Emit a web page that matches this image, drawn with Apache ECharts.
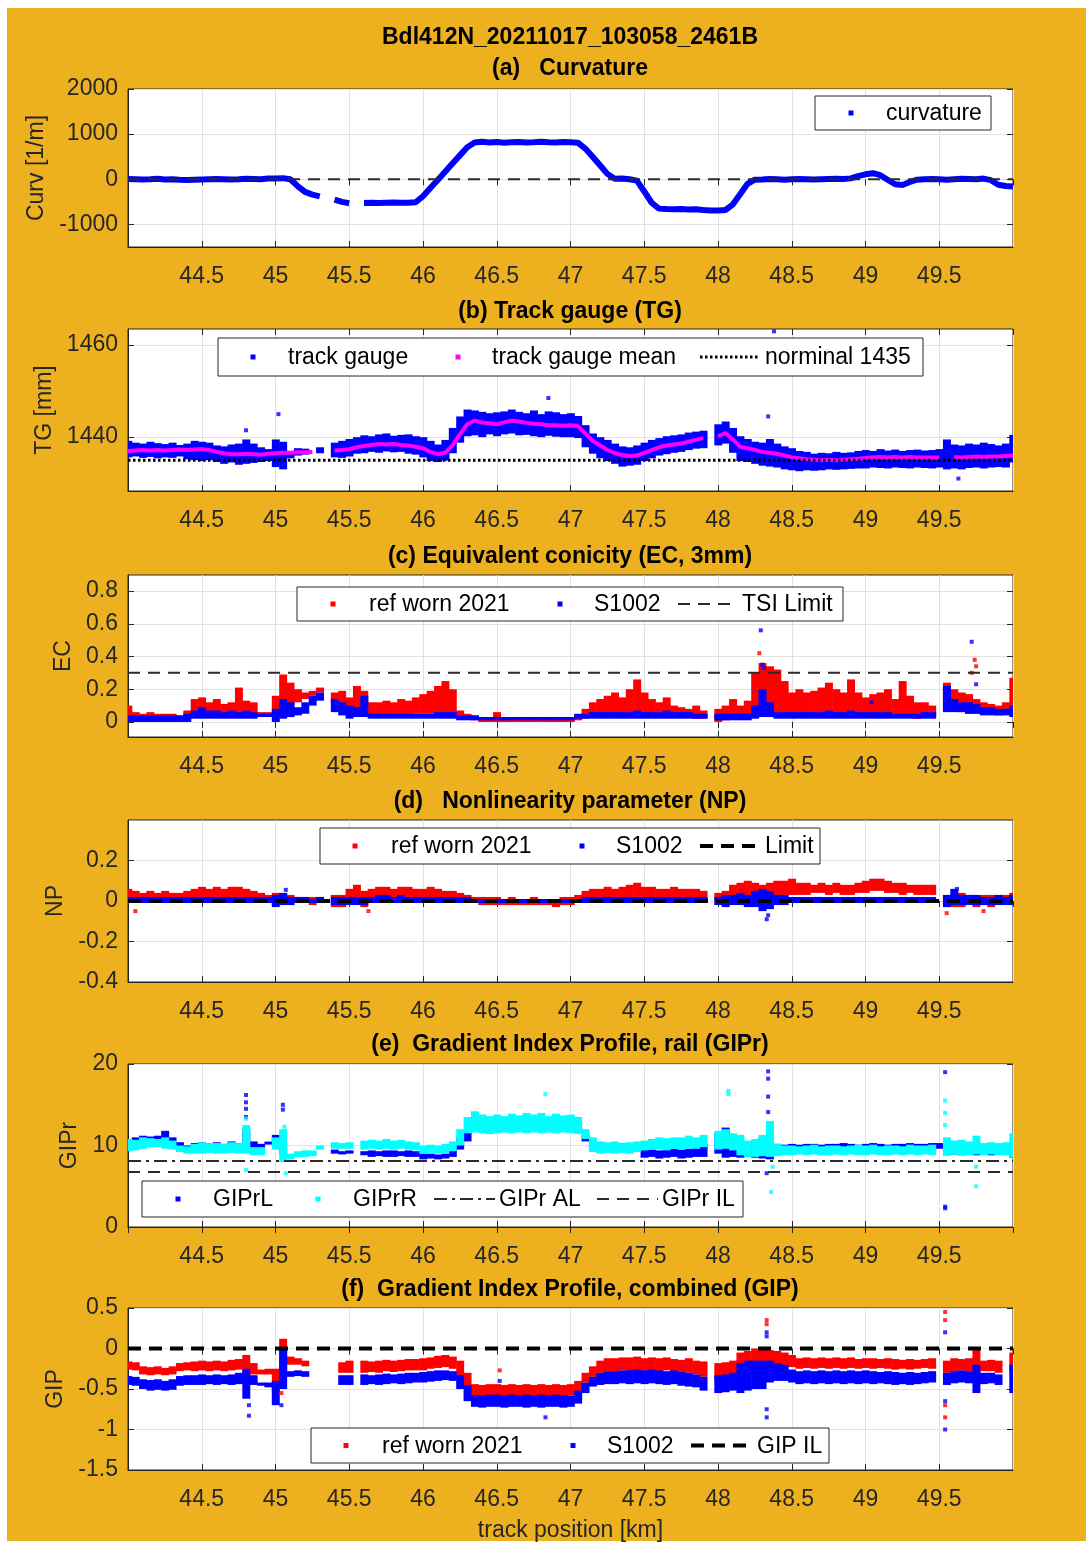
<!DOCTYPE html>
<html>
<head>
<meta charset="utf-8">
<script src="https://cdn.jsdelivr.net/npm/echarts@6/dist/echarts.min.js"></script>
<style>
  body { margin: 0; background: #fff; }
  #wrap { position: relative; width: 1091px; height: 1544px; }
  #paper { position: absolute; left: 7px; top: 8px; width: 1079px; height: 1533px; background: #EDB120; }
  #chart { position: absolute; left: 0; top: 0; width: 1091px; height: 1544px; }
</style>
</head>
<body>
<div id="wrap"><div id="paper"></div><div id="chart"></div></div>
<script>
// track position grid [km], 0.05 km bins
const trackKm = [
  44.00, 44.05, 44.10, 44.15, 44.20, 44.25, 44.30, 44.35, 44.40, 44.45,
  44.50, 44.55, 44.60, 44.65, 44.70, 44.75, 44.80, 44.85, 44.90, 44.95,
  45.00, 45.05, 45.10, 45.15, 45.20, 45.25, 45.30, 45.35, 45.40, 45.45,
  45.50, 45.55, 45.60, 45.65, 45.70, 45.75, 45.80, 45.85, 45.90, 45.95,
  46.00, 46.05, 46.10, 46.15, 46.20, 46.25, 46.30, 46.35, 46.40, 46.45,
  46.50, 46.55, 46.60, 46.65, 46.70, 46.75, 46.80, 46.85, 46.90, 46.95,
  47.00, 47.05, 47.10, 47.15, 47.20, 47.25, 47.30, 47.35, 47.40, 47.45,
  47.50, 47.55, 47.60, 47.65, 47.70, 47.75, 47.80, 47.85, 47.90, 47.95,
  48.00, 48.05, 48.10, 48.15, 48.20, 48.25, 48.30, 48.35, 48.40, 48.45,
  48.50, 48.55, 48.60, 48.65, 48.70, 48.75, 48.80, 48.85, 48.90, 48.95,
  49.00, 49.05, 49.10, 49.15, 49.20, 49.25, 49.30, 49.35, 49.40, 49.45,
  49.50, 49.55, 49.60, 49.65, 49.70, 49.75, 49.80, 49.85, 49.90, 49.95,
  50.00
];
const kmMin = 44, kmMax = 50;
const kmTicks = 0.5;

// (a) curvature [1/m]
const curvature = [
  5, 0, -5, 0, 10, -5, 0, -10, -15, -10,
  -5, 0, 5, 0, -5, 0, 10, 5, 0, 15,
  20, 25, 0, -150, -280, -340, -380, null, -450, -500,
  -530, null, -525, -520, -525, -520, -515, -520, -520, -510,
  -375, -195, -15, 165, 350, 530, 710, 815, 830, 815,
  825, 810, 820, 825, 815, 820, 830, 820, 815, 825,
  820, 810, 680, 500, 310, 120, 10, 15, 0, -30,
  -270, -520, -650, -660, -665, -660, -670, -665, -680, -690,
  -690, -680, -560, -330, -100, -10, -5, 5, 0, -10,
  0, 5, 0, -5, 0, 5, 10, 5, 20, 70,
  110, 135, 90, -10, -110, -125, -60, -10, 0, 5,
  0, -10, 0, 10, 5, 0, 15, -20, -120, -150,
  -160
];
const curvZero = 0;

// (b) track gauge [mm]
const tgLo = [
  1435.6, 1435.8, 1435.5, 1435.7, 1435.4, 1435.6, 1435.5, 1435.8, 1435.2, 1435.0,
  1434.8, 1435.0, 1434.6, 1434.2, 1434.5, 1434.0, 1434.2, 1434.4, 1434.6, 1434.8,
  1433.5, 1433.0, 1435.4, 1436.0, 1436.2, null, 1436.5, null, 1435.6, 1435.5,
  1435.8, 1436.4, 1436.5, 1436.8, 1436.6, 1436.9, 1436.7, 1436.8, 1436.4, 1436.2,
  1435.6, 1434.8, 1434.6, 1434.9, 1436.5, 1438.8, 1440.2, 1440.4, 1440.0, 1440.6,
  1440.2, 1440.6, 1440.8, 1440.4, 1440.5, 1440.2, 1440.0, 1440.3, 1440.1, 1440.0,
  1440.0, 1439.8, 1437.8, 1436.4, 1435.4, 1434.8, 1434.2, 1433.6, 1433.8, 1434.0,
  1434.8, 1435.4, 1436.0, 1436.3, 1436.6, 1436.8, 1437.2, 1437.5, 1437.6, null,
  1438.2, 1438.6, 1436.6, 1434.8, 1434.6, 1434.2, 1433.8, 1433.6, 1433.4, 1433.0,
  1432.8, 1432.6, 1432.8, 1432.7, 1432.8, 1433.0, 1432.9, 1433.0, 1433.1, 1433.2,
  1433.2, 1433.4, 1433.3, 1433.2, 1433.4, 1433.3, 1433.2, 1433.4, 1433.3, 1433.2,
  1433.4, 1433.0, 1433.2, 1433.0, 1433.3, 1433.4, 1433.2, 1433.4, 1433.5, 1433.4,
  1434.5
];
const tgHi = [
  1439.2, 1438.8, 1438.6, 1439.0, 1438.7, 1438.5, 1438.8, 1438.3, 1438.6, 1439.2,
  1439.0, 1438.8, 1438.2, 1438.0, 1438.4, 1438.6, 1439.5, 1438.6, 1437.8, 1437.4,
  1439.5, 1439.0, 1437.0, 1437.6, 1437.5, null, 1437.8, null, 1438.8, 1439.2,
  1439.6, 1440.0, 1440.4, 1440.2, 1440.6, 1440.8, 1440.3, 1440.5, 1440.6, 1440.2,
  1440.0, 1439.2, 1438.4, 1439.4, 1442.0, 1444.5, 1446.0, 1445.8, 1445.5, 1445.2,
  1445.4, 1445.6, 1446.0, 1445.5, 1445.2, 1445.8, 1445.0, 1445.6, 1445.4, 1445.0,
  1445.2, 1444.6, 1442.6, 1440.8, 1440.0, 1439.4, 1438.6, 1438.0, 1437.8, 1438.2,
  1438.8, 1439.4, 1439.8, 1440.2, 1440.4, 1440.6, 1441.0, 1441.2, 1441.4, null,
  1442.8, 1443.4, 1442.0, 1440.2, 1439.6, 1439.0, 1438.8, 1439.6, 1438.6, 1438.0,
  1437.6, 1437.0, 1436.8, 1436.4, 1436.6, 1436.5, 1436.8, 1436.6, 1436.7, 1437.0,
  1437.2, 1437.0, 1437.4, 1437.1, 1437.3, 1437.0, 1437.2, 1437.3, 1437.1, 1437.2,
  1437.4, 1439.5, 1438.4, 1438.2, 1438.6, 1438.4, 1438.8, 1438.5, 1438.2, 1438.6,
  1440.5
];
const tgMean = [
  1437.0, 1437.1, 1437.2, 1437.1, 1437.2, 1437.1, 1437.2, 1437.3, 1437.2, 1437.3,
  1437.4, 1437.2, 1436.8, 1436.5, 1436.3, 1436.3, 1436.4, 1436.3, 1436.2, 1436.4,
  1436.5, 1436.6, 1436.6, 1436.7, 1436.7, 1436.8, null, null, 1437.1, 1437.2,
  1437.4, 1437.8, 1438.1, 1438.3, 1438.5, 1438.4, 1438.5, 1438.3, 1438.2, 1437.9,
  1437.6, 1436.8, 1436.3, 1436.6, 1438.2, 1440.6, 1442.8, 1443.6, 1443.2, 1443.0,
  1442.8, 1443.2, 1443.6, 1443.4, 1443.1, 1442.9, 1442.8, 1442.6, 1442.6, 1442.5,
  1442.6, 1442.4, 1440.8, 1439.2, 1438.2, 1437.2, 1436.6, 1436.1, 1435.9, 1436.0,
  1436.6, 1437.2, 1437.8, 1438.2, 1438.4, 1438.6, 1439.0, 1439.4, 1439.8, null,
  1440.2, 1440.9, 1439.5, 1437.9, 1437.6, 1437.2, 1436.8, 1436.6, 1436.4, 1436.0,
  1435.6, 1435.4, 1435.2, 1435.1, 1435.0, 1435.1, 1435.0, 1435.1, 1435.2, 1435.3,
  1435.5, 1435.6, 1435.7, 1435.6, 1435.7, 1435.6, 1435.7, 1435.6, 1435.6, 1435.6,
  1435.6, null, 1435.7, 1435.6, 1435.7, 1435.8, 1435.7, 1435.8, 1435.8, 1435.9,
  1436.0
];
const tgOutKm = [44.80, 45.02, 46.85, 48.34, 48.38, 49.63];
const tgOutVal = [1441.5, 1445.0, 1448.5, 1444.5, 1463.0, 1431.0];
const tgNominal = 1435;

// (c) equivalent conicity
const ecRedLo = [
  0.01, 0.00, 0.00, 0.00, 0.00, 0.00, 0.00, 0.01, 0.02, 0.04,
  0.04, 0.04, 0.03, 0.04, 0.04, 0.05, 0.03, 0.03, 0.04, 0.04,
  0.05, 0.08, 0.10, 0.12, 0.14, 0.16, 0.18, null, 0.12, 0.08,
  0.06, 0.08, 0.06, 0.04, 0.04, 0.04, 0.04, 0.04, 0.04, 0.05,
  0.05, 0.05, 0.05, 0.05, 0.04, 0.02, 0.02, 0.01, 0.00, 0.00,
  0.00, 0.00, 0.00, 0.00, 0.00, 0.00, 0.00, 0.00, 0.00, 0.00,
  0.00, 0.01, 0.02, 0.03, 0.04, 0.04, 0.04, 0.04, 0.05, 0.05,
  0.05, 0.04, 0.04, 0.03, 0.03, 0.03, 0.03, 0.02, 0.02, null,
  0.00, 0.01, 0.02, 0.02, 0.03, 0.05, 0.05, 0.04, 0.04, 0.04,
  0.03, 0.03, 0.03, 0.04, 0.04, 0.04, 0.05, 0.05, 0.05, 0.04,
  0.04, 0.05, 0.04, 0.04, 0.03, 0.03, 0.03, 0.02, 0.03, 0.03,
  null, 0.08, 0.08, 0.06, 0.05, 0.05, 0.06, 0.05, 0.04, 0.05,
  0.05
];
const ecRedHi = [
  0.10, 0.06, 0.05, 0.06, 0.05, 0.05, 0.05, 0.04, 0.07, 0.14,
  0.15, 0.12, 0.14, 0.11, 0.12, 0.21, 0.13, 0.12, 0.06, 0.06,
  0.16, 0.29, 0.24, 0.20, 0.18, 0.19, 0.21, null, 0.18, 0.19,
  0.15, 0.22, 0.19, 0.12, 0.12, 0.13, 0.12, 0.14, 0.13, 0.15,
  0.17, 0.19, 0.22, 0.25, 0.20, 0.07, 0.05, 0.04, 0.03, 0.03,
  0.06, 0.03, 0.03, 0.02, 0.03, 0.02, 0.03, 0.02, 0.03, 0.03,
  0.03, 0.04, 0.08, 0.12, 0.14, 0.16, 0.18, 0.15, 0.20, 0.26,
  0.18, 0.14, 0.12, 0.15, 0.10, 0.09, 0.08, 0.10, 0.07, null,
  0.08, 0.10, 0.14, 0.10, 0.13, 0.30, 0.36, 0.34, 0.32, 0.25,
  0.18, 0.20, 0.18, 0.19, 0.21, 0.24, 0.20, 0.18, 0.26, 0.18,
  0.15, 0.17, 0.18, 0.20, 0.14, 0.25, 0.16, 0.12, 0.12, 0.10,
  null, 0.24, 0.20, 0.18, 0.17, 0.14, 0.12, 0.11, 0.10, 0.12,
  0.27
];
const ecBlueLo = [
  0.00, 0.00, 0.00, 0.00, 0.00, 0.00, 0.00, 0.00, 0.00, 0.02,
  0.02, 0.02, 0.02, 0.02, 0.02, 0.02, 0.02, 0.02, 0.03, 0.03,
  0.00, 0.02, 0.03, 0.04, 0.05, 0.10, 0.13, null, 0.06, 0.04,
  0.02, 0.03, 0.03, 0.02, 0.02, 0.02, 0.02, 0.02, 0.02, 0.02,
  0.02, 0.02, 0.02, 0.02, 0.02, 0.01, 0.01, 0.01, 0.01, 0.01,
  0.01, 0.01, 0.01, 0.01, 0.01, 0.01, 0.01, 0.01, 0.01, 0.01,
  0.01, 0.02, 0.02, 0.02, 0.02, 0.02, 0.02, 0.02, 0.02, 0.02,
  0.02, 0.02, 0.02, 0.02, 0.02, 0.02, 0.02, 0.02, 0.02, null,
  0.01, 0.01, 0.01, 0.01, 0.01, 0.02, 0.03, 0.03, 0.02, 0.02,
  0.02, 0.02, 0.02, 0.02, 0.02, 0.02, 0.02, 0.02, 0.02, 0.02,
  0.02, 0.02, 0.02, 0.02, 0.02, 0.02, 0.02, 0.02, 0.02, 0.02,
  null, 0.06, 0.06, 0.06, 0.05, 0.05, 0.04, 0.04, 0.04, 0.04,
  0.03
];
const ecBlueHi = [
  0.04, 0.04, 0.04, 0.04, 0.04, 0.04, 0.04, 0.04, 0.05, 0.07,
  0.09, 0.07, 0.07, 0.06, 0.07, 0.06, 0.07, 0.06, 0.05, 0.05,
  0.08, 0.14, 0.12, 0.09, 0.12, 0.16, 0.18, null, 0.14, 0.12,
  0.10, 0.09, 0.16, 0.05, 0.05, 0.05, 0.05, 0.05, 0.05, 0.05,
  0.05, 0.05, 0.06, 0.06, 0.06, 0.04, 0.04, 0.04, 0.03, 0.03,
  0.03, 0.03, 0.03, 0.03, 0.03, 0.03, 0.03, 0.03, 0.03, 0.03,
  0.03, 0.05, 0.05, 0.06, 0.06, 0.06, 0.06, 0.06, 0.06, 0.07,
  0.06, 0.06, 0.06, 0.07, 0.06, 0.06, 0.06, 0.05, 0.05, null,
  0.05, 0.05, 0.05, 0.05, 0.05, 0.10, 0.20, 0.12, 0.06, 0.06,
  0.06, 0.06, 0.06, 0.06, 0.06, 0.07, 0.06, 0.06, 0.07, 0.06,
  0.06, 0.06, 0.06, 0.06, 0.05, 0.05, 0.05, 0.05, 0.06, 0.06,
  null, 0.22, 0.14, 0.12, 0.12, 0.11, 0.09, 0.09, 0.08, 0.08,
  0.10
];
const ecRedOutKm = [48.28, 49.72, 49.74, 49.75];
const ecRedOutVal = [0.42, 0.30, 0.38, 0.34];
const ecBlueOutKm = [48.29, 48.30, 48.31, 49.04, 49.72, 49.75];
const ecBlueOutVal = [0.56, 0.35, 0.33, 0.12, 0.49, 0.23];
const ecTsiLimit = 0.3;

// (d) nonlinearity parameter
const npRedLo = [
  -0.01, 0.00, 0.00, -0.01, 0.00, 0.00, 0.00, 0.00, 0.00, 0.01,
  0.01, 0.01, 0.02, 0.01, 0.02, 0.01, 0.01, 0.01, 0.00, -0.01,
  -0.02, -0.02, -0.01, -0.01, -0.01, -0.02, -0.01, null, -0.03, -0.03,
  -0.02, 0.00, -0.03, 0.01, 0.02, 0.01, 0.02, 0.01, 0.02, 0.01,
  0.01, 0.01, 0.01, 0.00, 0.00, 0.00, 0.00, -0.01, -0.02, -0.02,
  -0.02, -0.02, -0.02, -0.02, -0.02, -0.02, -0.02, -0.02, -0.03, -0.02,
  -0.02, -0.01, 0.00, 0.01, 0.01, 0.01, 0.01, 0.02, 0.02, 0.02,
  0.02, 0.01, 0.01, 0.01, 0.01, 0.01, 0.01, 0.01, 0.00, null,
  0.00, -0.02, 0.00, 0.01, 0.02, 0.02, 0.01, 0.02, 0.02, 0.03,
  0.03, 0.03, 0.03, 0.04, 0.04, 0.03, 0.04, 0.03, 0.03, 0.04,
  0.04, 0.05, 0.05, 0.04, 0.04, 0.03, 0.04, 0.03, 0.03, 0.03,
  null, -0.03, -0.03, -0.03, -0.02, -0.03, -0.02, -0.03, -0.01, -0.02,
  -0.01
];
const npRedHi = [
  0.06, 0.05, 0.04, 0.05, 0.04, 0.05, 0.04, 0.04, 0.05, 0.06,
  0.07, 0.06, 0.07, 0.06, 0.07, 0.07, 0.06, 0.05, 0.04, 0.03,
  0.04, 0.04, 0.03, 0.02, 0.02, 0.02, 0.02, null, 0.03, 0.03,
  0.06, 0.08, 0.05, 0.06, 0.07, 0.07, 0.06, 0.07, 0.07, 0.06,
  0.06, 0.07, 0.06, 0.05, 0.05, 0.04, 0.03, 0.02, 0.02, 0.02,
  0.02, 0.01, 0.02, 0.01, 0.01, 0.02, 0.01, 0.01, 0.01, 0.02,
  0.02, 0.03, 0.05, 0.06, 0.06, 0.07, 0.06, 0.07, 0.08, 0.09,
  0.07, 0.07, 0.06, 0.06, 0.07, 0.06, 0.06, 0.06, 0.05, null,
  0.04, 0.05, 0.08, 0.09, 0.10, 0.09, 0.08, 0.09, 0.10, 0.10,
  0.11, 0.09, 0.09, 0.08, 0.09, 0.08, 0.09, 0.08, 0.08, 0.09,
  0.10, 0.11, 0.11, 0.10, 0.09, 0.09, 0.08, 0.08, 0.08, 0.08,
  null, 0.03, 0.03, 0.04, 0.03, 0.02, 0.03, 0.03, 0.02, 0.03,
  0.04
];
const npBlueLo = [
  -0.01, -0.01, -0.01, -0.01, -0.01, -0.01, -0.01, -0.01, -0.01, -0.01,
  -0.01, -0.01, -0.01, -0.01, -0.01, -0.01, -0.01, -0.01, -0.01, -0.01,
  -0.03, -0.02, -0.02, -0.01, -0.01, -0.01, -0.01, null, -0.02, -0.02,
  -0.02, -0.02, -0.02, -0.01, -0.01, -0.01, -0.01, -0.01, -0.01, -0.01,
  -0.01, -0.01, -0.01, -0.01, -0.01, -0.01, -0.01, -0.01, -0.01, -0.01,
  -0.01, -0.01, -0.01, -0.01, -0.01, -0.01, -0.01, -0.01, -0.01, -0.01,
  -0.01, -0.01, -0.01, -0.01, -0.01, -0.01, -0.01, -0.01, -0.01, -0.01,
  -0.01, -0.01, -0.01, -0.01, -0.01, -0.01, -0.01, -0.01, -0.01, null,
  -0.02, -0.03, -0.02, -0.02, -0.03, -0.03, -0.05, -0.04, -0.02, -0.02,
  -0.01, -0.01, -0.01, -0.01, -0.01, -0.01, -0.01, -0.01, -0.01, -0.01,
  -0.01, -0.01, -0.01, -0.01, -0.01, -0.01, -0.01, -0.01, -0.01, -0.01,
  null, -0.03, -0.02, -0.02, -0.02, -0.02, -0.02, -0.02, -0.02, -0.02,
  -0.02
];
const npBlueHi = [
  0.02, 0.02, 0.02, 0.02, 0.02, 0.02, 0.02, 0.02, 0.02, 0.02,
  0.02, 0.02, 0.02, 0.02, 0.02, 0.02, 0.02, 0.02, 0.02, 0.02,
  0.03, 0.04, 0.02, 0.02, 0.02, 0.01, 0.02, null, 0.02, 0.02,
  0.02, 0.02, 0.02, 0.02, 0.03, 0.03, 0.02, 0.03, 0.02, 0.02,
  0.02, 0.02, 0.02, 0.02, 0.02, 0.02, 0.02, 0.01, 0.01, 0.01,
  0.01, 0.01, 0.01, 0.01, 0.01, 0.01, 0.01, 0.01, 0.01, 0.01,
  0.01, 0.01, 0.02, 0.02, 0.02, 0.02, 0.02, 0.02, 0.02, 0.02,
  0.02, 0.02, 0.02, 0.02, 0.02, 0.02, 0.02, 0.02, 0.02, null,
  0.02, 0.03, 0.03, 0.04, 0.03, 0.05, 0.06, 0.05, 0.03, 0.03,
  0.02, 0.02, 0.02, 0.02, 0.02, 0.02, 0.02, 0.02, 0.02, 0.02,
  0.02, 0.02, 0.02, 0.02, 0.02, 0.02, 0.02, 0.02, 0.02, 0.02,
  null, 0.03, 0.06, 0.03, 0.03, 0.03, 0.02, 0.02, 0.03, 0.02,
  0.03
];
const npRedOutKm = [44.05, 45.63, 49.55, 49.80];
const npRedOutVal = [-0.05, -0.05, -0.06, -0.05];
const npBlueOutKm = [45.07, 48.33, 48.34, 49.62];
const npBlueOutVal = [0.055, -0.09, -0.07, 0.06];
const npLimit = 0;

// (e) gradient index profile, rail
const giprLLo = [
  10.0, 10.0, 10.2, 10.3, 10.4, 10.2, 10.3, 9.5, 9.3, 9.4,
  9.3, 9.4, 9.4, 9.3, 9.4, 9.3, 9.6, 9.0, 9.3, 10.0,
  10.5, 9.0, null, null, null, null, null, null, 9.0, 8.9,
  9.0, null, 8.8, 8.6, 8.7, 8.6, 8.6, 8.7, 8.6, 8.6,
  8.3, 8.4, 8.3, 8.4, 8.6, 9.5, 10.5, 11.9, 12.0, 11.9,
  12.0, 11.9, 12.0, 12.0, 11.9, 12.0, 12.0, 11.9, 11.9, 11.9,
  11.9, 11.5, 10.5, 9.4, 9.3, 9.4, 9.3, 9.4, 9.3, 9.3,
  8.5, 8.6, 8.4, 8.5, 8.6, 8.4, 8.5, 8.6, 8.6, null,
  9.0, 8.5, 8.6, 8.5, 8.6, 8.5, 8.4, 8.3, 9.3, 9.4,
  9.3, 9.3, 9.3, 9.3, 9.3, 9.3, 9.3, 9.3, 9.3, 9.3,
  9.3, 9.4, 9.3, 9.3, 9.4, 9.3, 9.3, 9.4, 9.3, 9.3,
  9.6, 8.8, 8.9, 8.8, 8.9, 8.8, 8.9, 8.8, 8.9, 9.5,
  8.5
];
const giprLHi = [
  10.8, 11.0, 11.2, 11.1, 11.2, 11.8, 11.0, 10.4, 10.0, 10.3,
  10.4, 10.3, 10.4, 10.2, 10.5, 10.3, 12.0, 10.5, 10.2, 10.3,
  11.3, 10.0, null, null, null, null, null, null, 9.5, 9.3,
  9.4, null, 9.3, 9.4, 9.3, 9.4, 9.4, 9.3, 9.4, 9.3,
  9.0, 9.0, 8.9, 9.0, 9.6, 11.0, 12.0, 12.5, 12.6, 12.5,
  12.6, 12.5, 12.6, 12.6, 12.5, 12.6, 12.5, 12.5, 12.5, 12.5,
  12.5, 12.3, 11.3, 10.3, 10.2, 10.3, 10.2, 10.3, 10.2, 10.2,
  9.6, 9.5, 9.4, 9.5, 9.6, 9.5, 9.6, 9.8, 10.2, null,
  11.5, 12.2, 11.0, 10.5, 10.3, 10.5, 11.0, 10.0, 10.2, 10.1,
  10.2, 10.1, 10.2, 10.2, 10.1, 10.2, 10.2, 10.3, 10.2, 10.1,
  10.2, 10.3, 10.2, 10.1, 10.2, 10.2, 10.3, 10.2, 10.2, 10.3,
  10.3, 9.8, 9.7, 9.8, 9.6, 9.8, 9.7, 9.6, 9.8, 10.3,
  10.0
];
const giprRLo = [
  9.3, 9.4, 9.6, 9.8, 9.8, 9.6, 9.5, 9.2, 9.0, 9.0,
  9.0, 9.1, 9.0, 9.0, 9.1, 9.0, 9.0, 8.8, 8.8, null,
  9.5, 8.0, 8.3, 8.6, 8.6, 8.7, 9.5, null, 9.6, 9.6,
  9.6, null, 9.5, 9.6, 9.5, 9.6, 9.5, 9.6, 9.5, 9.4,
  9.0, 9.1, 9.0, 9.0, 9.3, 10.0, 11.5, 11.6, 11.5, 11.4,
  11.5, 11.6, 11.5, 11.6, 11.5, 11.6, 11.5, 11.6, 11.5, 11.6,
  11.5, 11.5, 10.8, 9.2, 9.0, 9.1, 9.0, 9.1, 9.0, 9.2,
  9.4, 9.5, 9.5, 9.4, 9.6, 9.5, 9.6, 9.6, 9.8, null,
  9.5, 9.6, 9.4, 8.8, 8.6, 8.6, 8.7, 8.6, 8.7, 8.8,
  8.8, 8.9, 8.8, 8.9, 8.8, 8.8, 8.9, 8.8, 8.9, 8.8,
  8.8, 8.9, 8.8, 8.8, 8.9, 8.8, 8.9, 8.8, 8.9, 8.8,
  null, 8.8, 8.9, 8.8, 8.8, 8.9, 8.8, 8.9, 8.8, 8.8,
  8.5
];
const giprRHi = [
  10.8, 10.7, 11.0, 10.9, 10.8, 11.0, 10.6, 10.0, 9.9, 10.2,
  10.4, 10.3, 10.3, 10.2, 10.4, 10.3, 12.5, 9.8, 9.8, null,
  11.0, 12.0, 9.0, 9.3, 9.4, 9.4, 10.0, null, 10.4, 10.3,
  10.4, null, 10.6, 10.7, 10.6, 10.8, 10.6, 10.7, 10.5, 10.4,
  10.0, 10.1, 10.0, 10.2, 10.5, 12.0, 13.5, 14.2, 13.8, 13.6,
  13.8, 13.6, 13.9, 13.7, 14.0, 13.8, 14.0, 13.6, 13.9, 13.7,
  13.8, 13.5, 12.0, 11.0, 10.5, 10.4, 10.5, 10.3, 10.4, 10.5,
  10.6, 10.8, 11.0, 10.9, 11.0, 11.0, 11.2, 11.0, 11.3, null,
  11.8, 12.0, 11.5, 11.3, 10.6, 10.8, 11.3, 13.0, 10.2, 10.0,
  10.0, 9.9, 10.0, 10.1, 9.9, 10.0, 10.0, 9.9, 10.0, 10.1,
  10.0, 10.1, 9.9, 10.0, 10.0, 9.9, 10.1, 10.0, 10.0, 10.1,
  null, 11.0, 10.6, 10.7, 10.5, 11.2, 10.3, 10.4, 10.3, 10.4,
  11.5
];
const giprLOutKm = [44.80, 44.80, 44.80, 44.80, 45.05, 45.05, 48.33, 48.34, 48.34, 48.34, 48.34, 49.54, 49.54, 49.54];
const giprLOutVal = [16.2, 15.3, 14.5, 13.5, 15.0, 14.4, 6.6, 19.1, 18.2, 16.0, 14.1, 19.0, 2.5, 2.3];
const giprROutKm = [44.80, 44.80, 45.06, 45.07, 46.83, 48.07, 48.07, 48.36, 48.37, 49.54, 49.54, 49.54, 49.75, 49.75];
const giprROutVal = [13.3, 7.0, 12.3, 6.6, 16.3, 16.7, 16.3, 4.3, 7.4, 15.5, 14.0, 12.5, 7.4, 5.0];
const giprAlarmLimit = 8.1;
const giprInterventionLimit = 6.75;

// (f) gradient index profile, combined
const gipRedLo = [
  -0.26, -0.27, -0.32, -0.33, -0.32, -0.33, -0.32, -0.28, -0.27, -0.28,
  -0.27, -0.28, -0.27, -0.28, -0.27, -0.26, -0.35, -0.32, -0.32, -0.32,
  -0.55, -0.30, -0.20, -0.20, -0.22, null, null, null, null, -0.30,
  -0.30, null, -0.30, -0.29, -0.30, -0.28, -0.29, -0.28, -0.27, -0.27,
  -0.27, -0.25, -0.24, -0.23, -0.25, -0.35, -0.50, -0.60, -0.60, -0.58,
  -0.58, -0.60, -0.59, -0.60, -0.58, -0.60, -0.59, -0.60, -0.58, -0.59,
  -0.58, -0.55, -0.42, -0.35, -0.30, -0.28, -0.28, -0.27, -0.28, -0.27,
  -0.28, -0.27, -0.28, -0.27, -0.28, -0.30, -0.30, -0.32, -0.35, null,
  -0.40, -0.38, -0.36, -0.35, -0.34, -0.32, -0.30, -0.25, -0.22, -0.22,
  -0.23, -0.25, -0.24, -0.25, -0.24, -0.25, -0.24, -0.25, -0.24, -0.25,
  -0.24, -0.25, -0.24, -0.25, -0.26, -0.25, -0.26, -0.25, -0.24, -0.25,
  null, -0.30, -0.28, -0.27, -0.28, -0.30, -0.28, -0.28, -0.30, null,
  -0.30
];
const gipRedHi = [
  -0.16, -0.17, -0.22, -0.23, -0.22, -0.24, -0.22, -0.18, -0.17, -0.16,
  -0.15, -0.16, -0.15, -0.16, -0.14, -0.13, -0.08, -0.18, -0.26, -0.25,
  -0.25, 0.12, -0.10, -0.12, -0.15, null, null, null, null, -0.17,
  -0.15, null, -0.15, -0.16, -0.15, -0.14, -0.15, -0.14, -0.13, -0.13,
  -0.12, -0.11, -0.09, -0.08, -0.10, -0.15, -0.30, -0.44, -0.45, -0.44,
  -0.44, -0.45, -0.44, -0.45, -0.44, -0.45, -0.44, -0.45, -0.44, -0.45,
  -0.44, -0.40, -0.30, -0.22, -0.15, -0.12, -0.12, -0.11, -0.11, -0.10,
  -0.12, -0.11, -0.12, -0.11, -0.13, -0.14, -0.12, -0.15, -0.16, null,
  -0.18, -0.17, -0.15, -0.05, -0.03, 0.00, 0.00, -0.02, -0.03, -0.05,
  -0.08, -0.12, -0.11, -0.12, -0.11, -0.12, -0.11, -0.12, -0.11, -0.13,
  -0.12, -0.12, -0.13, -0.12, -0.13, -0.14, -0.13, -0.14, -0.13, -0.12,
  null, -0.15, -0.12, -0.13, -0.12, -0.02, -0.15, -0.14, -0.15, null,
  -0.05
];
const gipBlueLo = [
  -0.45, -0.46, -0.50, -0.52, -0.51, -0.52, -0.51, -0.46, -0.45, -0.45,
  -0.45, -0.44, -0.45, -0.44, -0.45, -0.44, -0.62, -0.45, -0.46, -0.48,
  -0.70, -0.50, -0.35, -0.34, -0.35, null, null, null, null, -0.45,
  -0.45, null, -0.45, -0.44, -0.45, -0.44, -0.43, -0.44, -0.43, -0.42,
  -0.42, -0.41, -0.40, -0.39, -0.40, -0.50, -0.65, -0.72, -0.73, -0.72,
  -0.72, -0.73, -0.72, -0.72, -0.73, -0.72, -0.73, -0.72, -0.72, -0.73,
  -0.72, -0.68, -0.55, -0.47, -0.45, -0.44, -0.44, -0.43, -0.44, -0.43,
  -0.44, -0.43, -0.44, -0.45, -0.44, -0.46, -0.47, -0.48, -0.52, null,
  -0.55, -0.54, -0.52, -0.55, -0.52, -0.50, -0.50, -0.42, -0.40, -0.40,
  -0.42, -0.44, -0.43, -0.44, -0.43, -0.44, -0.43, -0.44, -0.43, -0.44,
  -0.43, -0.44, -0.43, -0.44, -0.45, -0.44, -0.45, -0.44, -0.43, -0.42,
  null, -0.45, -0.43, -0.42, -0.43, -0.55, -0.44, -0.43, -0.45, null,
  -0.55
];
const gipBlueHi = [
  -0.34, -0.35, -0.38, -0.39, -0.38, -0.40, -0.38, -0.34, -0.33, -0.33,
  -0.32, -0.33, -0.32, -0.33, -0.32, -0.30, -0.25, -0.33, -0.42, -0.42,
  -0.40, 0.00, -0.28, -0.27, -0.28, null, null, null, null, -0.33,
  -0.33, null, -0.32, -0.33, -0.32, -0.31, -0.32, -0.31, -0.30, -0.30,
  -0.29, -0.28, -0.27, -0.27, -0.28, -0.33, -0.45, -0.58, -0.58, -0.57,
  -0.57, -0.58, -0.57, -0.58, -0.57, -0.58, -0.57, -0.58, -0.57, -0.58,
  -0.58, -0.52, -0.42, -0.35, -0.30, -0.28, -0.28, -0.27, -0.27, -0.26,
  -0.27, -0.26, -0.27, -0.28, -0.27, -0.29, -0.30, -0.32, -0.35, null,
  -0.33, -0.32, -0.30, -0.18, -0.15, -0.15, -0.15, -0.15, -0.18, -0.20,
  -0.26, -0.28, -0.27, -0.28, -0.27, -0.28, -0.27, -0.28, -0.27, -0.28,
  -0.27, -0.28, -0.29, -0.28, -0.29, -0.30, -0.29, -0.30, -0.29, -0.28,
  null, -0.30, -0.28, -0.27, -0.28, -0.20, -0.30, -0.30, -0.32, null,
  -0.20
];
const gipRedOutKm = [45.04, 46.52, 48.33, 48.33, 49.54, 49.54, 49.54, 49.54];
const gipRedOutVal = [-0.55, -0.27, 0.35, 0.30, 0.45, 0.35, -0.70, -0.85];
const gipBlueOutKm = [44.82, 44.82, 45.04, 46.52, 46.83, 48.33, 48.33, 48.33, 48.33, 49.54, 49.54, 49.54];
const gipBlueOutVal = [-0.83, -0.70, -0.70, -0.40, -0.85, 0.20, 0.15, -0.85, -0.75, 0.20, -0.65, -1.00];
const gipInterventionLimit = 0;

// ---------------------------------------------------------------------------
const FONT_FAMILY = 'Liberation Sans, Arial, sans-serif';
const FONT_SIZE = 23;
const INK = '#262626';
const BLUE = '#0000ff', RED = '#ff0000', MAGENTA = '#ff00ff', CYAN = '#00ffff';
const halfStep = (trackKm[1] - trackKm[0]) / 2;

const panels = [
  { top: 89,   height: 158, min: -1500,  max: 2000,  ticks: [-1000, 0, 1000, 2000], name: 'Curv [1/m]', gap: 75 },
  { top: 329,  height: 162, min: 1428.3, max: 1463.5, ticks: [1440, 1460],          name: 'TG [mm]',    gap: 65 },
  { top: 575,  height: 162, min: -0.092, max: 0.898, ticks: [0, 0.2, 0.4, 0.6, 0.8], name: 'EC',         gap: 53 },
  { top: 820,  height: 162, min: -0.4,   max: 0.4,   ticks: [-0.4, -0.2, 0, 0.2],   name: 'NP',         gap: 56 },
  { top: 1064, height: 163, min: 0,      max: 20,    ticks: [0, 10, 20],            name: 'GIPr',       gap: 41 },
  { top: 1308, height: 162, min: -1.5,   max: 0.5,   ticks: [-1.5, -1, -0.5, 0, 0.5], name: 'GIP',      gap: 56 }
];

function plainNumber(v) { return String(v); }

var textStyle = { fontFamily: FONT_FAMILY, fontSize: FONT_SIZE, color: INK };
var grids = [], xAxes = [], yAxes = [];
panels.forEach(function (p, g) {
  grids.push({ left: 128, width: 885, top: p.top, height: p.height, show: true,
    backgroundColor: '#fff', borderColor: INK, borderWidth: 1 });
  var bottomX = {
    type: 'value', gridIndex: g, position: 'bottom', min: kmMin, max: kmMax, interval: kmTicks,
    axisLine: { show: true, onZero: false, lineStyle: { color: INK } },
    axisTick: { show: true, inside: true, length: 6, lineStyle: { color: INK } },
    axisLabel: Object.assign({ showMinLabel: false, showMaxLabel: false, margin: 18, formatter: plainNumber }, textStyle),
    splitLine: { show: true, lineStyle: { color: '#e2e2e2' } }
  };
  if (g === panels.length - 1) {
    bottomX.name = 'track position [km]';
    bottomX.nameLocation = 'middle';
    bottomX.nameGap = 49;
    bottomX.nameTextStyle = textStyle;
  }
  xAxes.push(bottomX);
  xAxes.push({
    type: 'value', gridIndex: g, position: 'top', min: kmMin, max: kmMax, interval: kmTicks,
    axisLine: { show: false }, axisLabel: { show: false }, splitLine: { show: false },
    axisTick: { show: true, inside: true, length: 6, lineStyle: { color: INK } }
  });
  yAxes.push({
    type: 'value', gridIndex: g, position: 'left', min: p.min, max: p.max,
    axisLine: { show: true, onZero: false, lineStyle: { color: INK } },
    axisTick: { show: true, inside: true, length: 6, customValues: p.ticks, lineStyle: { color: INK } },
    axisLabel: Object.assign({ customValues: p.ticks, margin: 10, formatter: plainNumber }, textStyle),
    splitLine: { show: true, lineStyle: { color: '#e2e2e2' } },
    name: p.name, nameLocation: 'middle', nameGap: p.gap, nameRotate: 90, nameTextStyle: textStyle
  });
  yAxes.push({
    type: 'value', gridIndex: g, position: 'right', min: p.min, max: p.max,
    axisLine: { show: false }, axisLabel: { show: false }, splitLine: { show: false },
    axisTick: { show: true, inside: true, length: 6, customValues: p.ticks, lineStyle: { color: INK } }
  });
});

function bandRect(params, api) {
  var x = api.value(0);
  var p1 = api.coord([x - halfStep, api.value(2)]);
  var p2 = api.coord([x + halfStep, api.value(1)]);
  var h = Math.max(p2[1] - p1[1], 3);
  return {
    type: 'rect',
    shape: { x: p1[0], y: p1[1] - (h > p2[1] - p1[1] ? 1.5 : 0), width: p2[0] - p1[0] + 0.6, height: h },
    style: { fill: api.visual('color') }
  };
}
function band(name, g, lo, hi, color) {
  var data = [];
  trackKm.forEach(function (km, i) {
    if (lo[i] != null && hi[i] != null) data.push([km, lo[i], hi[i]]);
  });
  return { name: name, type: 'custom', xAxisIndex: 2 * g, yAxisIndex: 2 * g, renderItem: bandRect,
    data: data, encode: { x: 0, y: [1, 2] }, itemStyle: { color: color }, clip: true, silent: true };
}
function trace(name, g, vals, color, width) {
  return { name: name, type: 'line', xAxisIndex: 2 * g, yAxisIndex: 2 * g, symbol: 'none',
    data: trackKm.map(function (km, i) { return [km, vals[i] == null ? '-' : vals[i]]; }),
    lineStyle: { color: color, width: width }, itemStyle: { color: color }, silent: true };
}
function dots(name, g, xs, ys, color) {
  return { name: name, type: 'scatter', xAxisIndex: 2 * g, yAxisIndex: 2 * g, symbol: 'rect', symbolSize: 4,
    data: xs.map(function (x, i) { return [x, ys[i]]; }), itemStyle: { color: color }, silent: true };
}
function level(name, g, value, style) {
  return { name: name, type: 'line', xAxisIndex: 2 * g, yAxisIndex: 2 * g, symbol: 'none', z: 5,
    data: [[kmMin, value], [kmMax, value]], lineStyle: style, silent: true };
}

const thinDash = { color: '#2a2a2a', width: 2, type: [12, 8] };
const thickDash = { color: '#000', width: 4, type: [13, 8] };
const dashDot = { color: '#2a2a2a', width: 1.8, type: [13, 5, 3, 5] };
const dotted = { color: '#000', width: 3, type: [2.5, 2.5] };

var series = [
  trace('curvature', 0, curvature, BLUE, 6),
  level('zero', 0, curvZero, thinDash),

  band('track gauge', 1, tgLo, tgHi, BLUE),
  dots('track gauge', 1, tgOutKm, tgOutVal, BLUE),
  trace('track gauge mean', 1, tgMean, MAGENTA, 4),
  level('norminal 1435', 1, tgNominal, dotted),

  band('ref worn 2021', 2, ecRedLo, ecRedHi, RED),
  dots('ref worn 2021', 2, ecRedOutKm, ecRedOutVal, RED),
  band('S1002', 2, ecBlueLo, ecBlueHi, BLUE),
  dots('S1002', 2, ecBlueOutKm, ecBlueOutVal, BLUE),
  level('TSI Limit', 2, ecTsiLimit, thinDash),

  band('ref worn 2021', 3, npRedLo, npRedHi, RED),
  dots('ref worn 2021', 3, npRedOutKm, npRedOutVal, RED),
  band('S1002', 3, npBlueLo, npBlueHi, BLUE),
  dots('S1002', 3, npBlueOutKm, npBlueOutVal, BLUE),
  level('Limit', 3, npLimit, thickDash),

  band('GIPrL', 4, giprLLo, giprLHi, BLUE),
  dots('GIPrL', 4, giprLOutKm, giprLOutVal, BLUE),
  band('GIPrR', 4, giprRLo, giprRHi, CYAN),
  dots('GIPrR', 4, giprROutKm, giprROutVal, CYAN),
  level('GIPr AL', 4, giprAlarmLimit, dashDot),
  level('GIPr IL', 4, giprInterventionLimit, thinDash),

  band('ref worn 2021', 5, gipRedLo, gipRedHi, RED),
  dots('ref worn 2021', 5, gipRedOutKm, gipRedOutVal, RED),
  band('S1002', 5, gipBlueLo, gipBlueHi, BLUE),
  dots('S1002', 5, gipBlueOutKm, gipBlueOutVal, BLUE),
  level('GIP IL', 5, gipInterventionLimit, thickDash)
];

// titles and MATLAB style legend boxes
var FONT = FONT_SIZE + 'px ' + FONT_FAMILY;
function title(text, y) {
  return { type: 'text', x: 570, y: y, z: 100,
    style: { text: text, font: 'bold ' + FONT, fill: '#000', align: 'center', verticalAlign: 'middle' } };
}
function legendBox(x, y, w, h, items) {
  var cy = y + h / 2;
  var out = [{ type: 'rect', z: 100, shape: { x: x, y: y, width: w, height: h },
    style: { fill: '#fff', stroke: INK, lineWidth: 1 } }];
  items.forEach(function (it) {
    if (it.dot) out.push({ type: 'rect', z: 101, shape: { x: it.at - 2.5, y: cy - 2.5, width: 5, height: 5 }, style: { fill: it.dot } });
    if (it.line) out.push({ type: 'line', z: 101, shape: { x1: it.at, y1: cy, x2: it.to, y2: cy },
      style: { stroke: it.line.color, lineWidth: it.line.width, lineDash: it.line.type } });
    if (it.text) out.push({ type: 'text', z: 101, x: it.at, y: cy + 1,
      style: { text: it.text, font: FONT, fill: '#000', align: 'left', verticalAlign: 'middle' } });
  });
  return out;
}

var graphics = [
  title('Bdl412N_20211017_103058_2461B', 38),
  title('(a)   Curvature', 69),
  title('(b) Track gauge (TG)', 312),
  title('(c) Equivalent conicity (EC, 3mm)', 557),
  title('(d)   Nonlinearity parameter (NP)', 802),
  title('(e)  Gradient Index Profile, rail (GIPr)', 1045),
  title('(f)  Gradient Index Profile, combined (GIP)', 1290)
].concat(
  legendBox(815, 96, 176, 34, [{ dot: BLUE, at: 851 }, { text: 'curvature', at: 886 }]),
  legendBox(218, 338, 705, 38, [
    { dot: BLUE, at: 253 }, { text: 'track gauge', at: 288 },
    { dot: MAGENTA, at: 458 }, { text: 'track gauge mean', at: 492 },
    { line: dotted, at: 700, to: 760 }, { text: 'norminal 1435', at: 765 }]),
  legendBox(297, 587, 546, 34, [
    { dot: RED, at: 333 }, { text: 'ref worn 2021', at: 369 },
    { dot: BLUE, at: 560 }, { text: 'S1002', at: 594 },
    { line: thinDash, at: 678, to: 738 }, { text: 'TSI Limit', at: 742 }]),
  legendBox(320, 828, 500, 36, [
    { dot: RED, at: 355 }, { text: 'ref worn 2021', at: 391 },
    { dot: BLUE, at: 582 }, { text: 'S1002', at: 616 },
    { line: thickDash, at: 700, to: 760 }, { text: 'Limit', at: 765 }]),
  legendBox(142, 1181, 601, 36, [
    { dot: BLUE, at: 178 }, { text: 'GIPrL', at: 213 },
    { dot: CYAN, at: 318 }, { text: 'GIPrR', at: 353 },
    { line: dashDot, at: 434, to: 495 }, { text: 'GIPr AL', at: 499 },
    { line: thinDash, at: 597, to: 658 }, { text: 'GIPr IL', at: 662 }]),
  legendBox(311, 1428, 518, 35, [
    { dot: RED, at: 346 }, { text: 'ref worn 2021', at: 382 },
    { dot: BLUE, at: 573 }, { text: 'S1002', at: 607 },
    { line: thickDash, at: 691, to: 752 }, { text: 'GIP IL', at: 757 }])
);

var chart = echarts.init(document.getElementById('chart'), null, { renderer: 'canvas' });
chart.setOption({
  animation: false,
  grid: grids,
  xAxis: xAxes,
  yAxis: yAxes,
  series: series,
  graphic: graphics
});
</script>
</body>
</html>
